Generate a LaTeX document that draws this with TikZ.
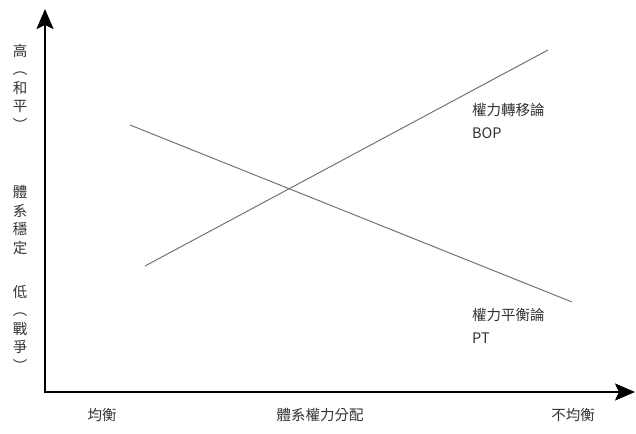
\documentclass[tikz,border=0pt]{standalone}
\usepackage{fontspec}
\setmainfont{Noto Sans CJK TC}
\usetikzlibrary{arrows.meta}
\begin{document}
\begin{tikzpicture}[x=1pt,y=-1pt,
  axis/.style={line width=2.2pt,-{Stealth[length=20pt,width=17pt,inset=4pt]}},
  trend/.style={line width=1pt,draw=black!55},
  lbl/.style={text=black!80,font=\fontsize{14.5}{17}\selectfont,inner sep=0pt},
  vlbl/.style={lbl,align=center,font=\fontsize{14.5}{18.5}\selectfont}]
\useasboundingbox (0,0) rectangle (636,433);
\coordinate (o) at (45,392);
\coordinate (ytop) at (45,9);
\coordinate (xend) at (635,392);
\draw[axis] (o) -- (ytop);
\draw[axis] ([xshift=-1.1pt]o) -- (xend);
\coordinate (b1) at (145,266);
\coordinate (b2) at (548,50);
\coordinate (p1) at (130,125);
\coordinate (p2) at (572,302);
\draw[trend] (b1) -- (b2);
\draw[trend] (p1) -- (p2);
\node[lbl,anchor=west] (bop1) at (472,110) {權力轉移論};
\node[lbl,anchor=west] (bop2) at (472,133) {BOP};
\node[lbl,anchor=west] (pt1) at (472,315) {權力平衡論};
\node[lbl,anchor=west] (pt2) at (472,338) {PT};
\node[lbl] (x1) at (102,415) {均衡};
\node[lbl] (x2) at (320,415) {體系權力分配};
\node[lbl] (x3) at (573,415) {不均衡};
\node[vlbl] (v1) at (20,87) {高\\︵\\和\\平\\︶};
\node[vlbl] (v2) at (20,220) {體\\系\\穩\\定};
\node[vlbl] (v3) at (20,328) {低\\︵\\戰\\爭\\︶};
\end{tikzpicture}
\end{document}
